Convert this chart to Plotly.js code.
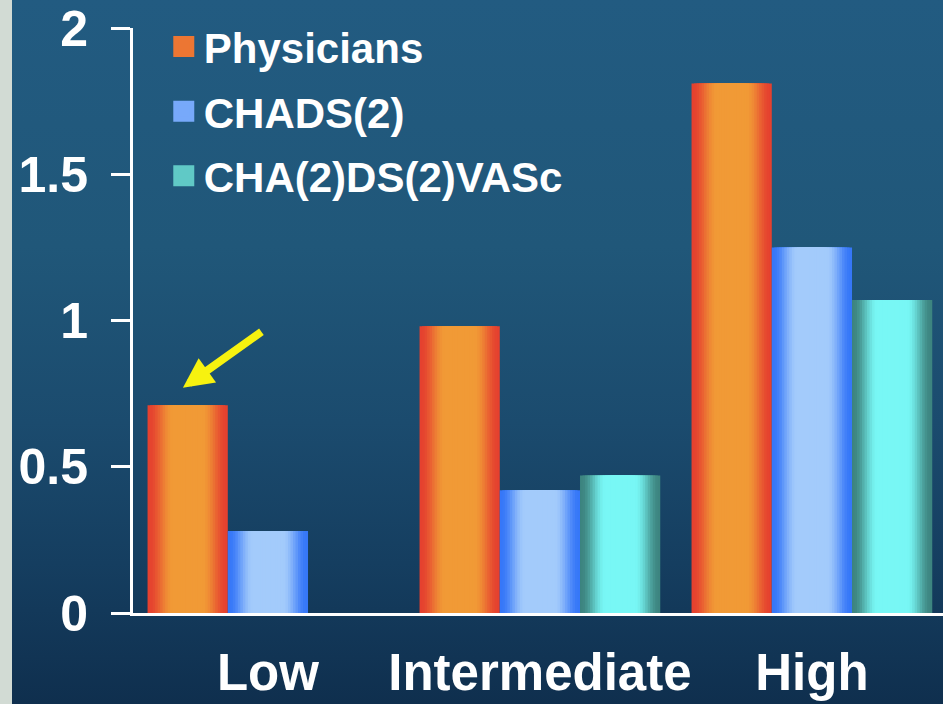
<!DOCTYPE html>
<html>
<head>
<meta charset="utf-8">
<script src="https://cdn.plot.ly/plotly-3.0.1.min.js"></script>
<style>
  html, body { margin: 0; padding: 0; width: 943px; height: 704px; overflow: hidden; }
  #bg {
    position: absolute; left: 0; top: 0; width: 943px; height: 704px;
    background: linear-gradient(to bottom, #225b81 0%, #205779 35%, #1b4b6e 60%, #153e60 80%, #0f2f4e 100%);
  }
  #strip { position: absolute; left: 0; top: 0; width: 12px; height: 704px; background: #d2dbd4; }
  #chart { position: absolute; left: 0; top: 0; width: 943px; height: 704px; }
</style>
</head>
<body>
<div id="bg"></div>
<div id="strip"></div>
<div id="chart"></div>
<script>
// Risk categories and the value for each assessment method
const categories = ['Low', 'Intermediate', 'High'];
const physicians = [0.71, 0.98, 1.81];
const chads2 = [0.28, 0.42, 1.25];
const cha2ds2vasc = [null, 0.47, 1.07];

const yTickVals = [0, 0.5, 1, 1.5, 2];
const yTickText = ['0', '0.5', '1', '1.5', '2'];

const seriesNames = ['Physicians', 'CHADS(2)', 'CHA(2)DS(2)VASc'];
const seriesValues = [physicians, chads2, cha2ds2vasc];

// edge colour and centre colour of the cylinder-like shading for each series
const shading = [
  { edge: [229, 65, 47], centre: [241, 154, 54] },
  { edge: [54, 119, 248], centre: [163, 203, 251] },
  { edge: [61, 133, 128], centre: [120, 247, 245] }
];

const BAR_W = 0.295;          // bar width in category units
const LAYERS = 16;            // shading bands per bar
const FONT = 'Liberation Sans, Arial, Helvetica, sans-serif';

function mix(a, b, t) {
  const c = a.map((v, i) => Math.round(v + (b[i] - v) * t));
  return 'rgb(' + c.join(',') + ')';
}

const traces = [];
seriesValues.forEach((vals, s) => {
  const centreOffset = (s - 1) * BAR_W;
  for (let k = 0; k < LAYERS; k++) {
    const frac = k / LAYERS;
    const w = BAR_W * (1 - frac);
    const t = Math.min(1, frac / 0.6);
    const tt = t * t * (3 - 2 * t);
    traces.push({
      type: 'bar',
      x: categories,
      y: vals,
      width: w,
      offset: centreOffset - w / 2,
      marker: { color: mix(shading[s].edge, shading[s].centre, tt), line: { width: 0 } },
      showlegend: false,
      hoverinfo: 'skip'
    });
  }
});

// legend entries
seriesNames.forEach((name, s) => {
  traces.push({
    type: 'scatter',
    mode: 'markers',
    x: [null], y: [null],
    name: name,
    legendgroup: name,
    marker: {
      symbol: 'square', size: 16,
      color: mix(shading[s].edge, shading[s].centre, 0.6),
      line: { width: 5, color: mix(shading[s].edge, shading[s].centre, 0.6) }
    }
  });
});

const layout = {
  width: 943, height: 704,
  margin: { l: 133, r: 0, t: 28, b: 91 },
  paper_bgcolor: 'rgba(0,0,0,0)',
  plot_bgcolor: 'rgba(0,0,0,0)',
  barmode: 'overlay',
  showlegend: true,
  legend: {
    x: 0.038, y: 1.026, xanchor: 'left', yanchor: 'top',
    bgcolor: 'rgba(0,0,0,0)',
    font: { family: FONT, size: 42, color: '#ffffff', weight: 'bold' },
    traceorder: 'grouped',
    tracegroupgap: 7,
    itemsizing: 'trace'
  },
  xaxis: {
    type: 'category',
    range: [-0.496, 2.482],
    showline: true, linecolor: '#ffffff', linewidth: 3,
    ticks: '', showgrid: false, zeroline: false,
    tickangle: 0,
    ticklabelstandoff: 13,
    tickfont: { family: FONT, size: 51, color: '#ffffff', weight: 'bold' }
  },
  yaxis: {
    range: [0, 2],
    tickvals: yTickVals, ticktext: yTickText,
    showline: true, linecolor: '#ffffff', linewidth: 3,
    ticks: 'outside', ticklen: 19, tickwidth: 3, tickcolor: '#ffffff',
    showgrid: false, zeroline: false,
    ticklabelstandoff: 13,
    tickfont: { family: FONT, size: 50, color: '#ffffff', weight: 'bold' }
  },
  annotations: [{
    x: -0.3125, y: 0.77, xref: 'x', yref: 'y',
    ax: 80, ay: -57,
    text: '', showarrow: true,
    arrowhead: 2, arrowsize: 0.75, arrowwidth: 8,
    arrowcolor: '#f7f20f'
  }]
};

Plotly.newPlot('chart', traces, layout, { displayModeBar: false, staticPlot: true });
</script>
</body>
</html>
